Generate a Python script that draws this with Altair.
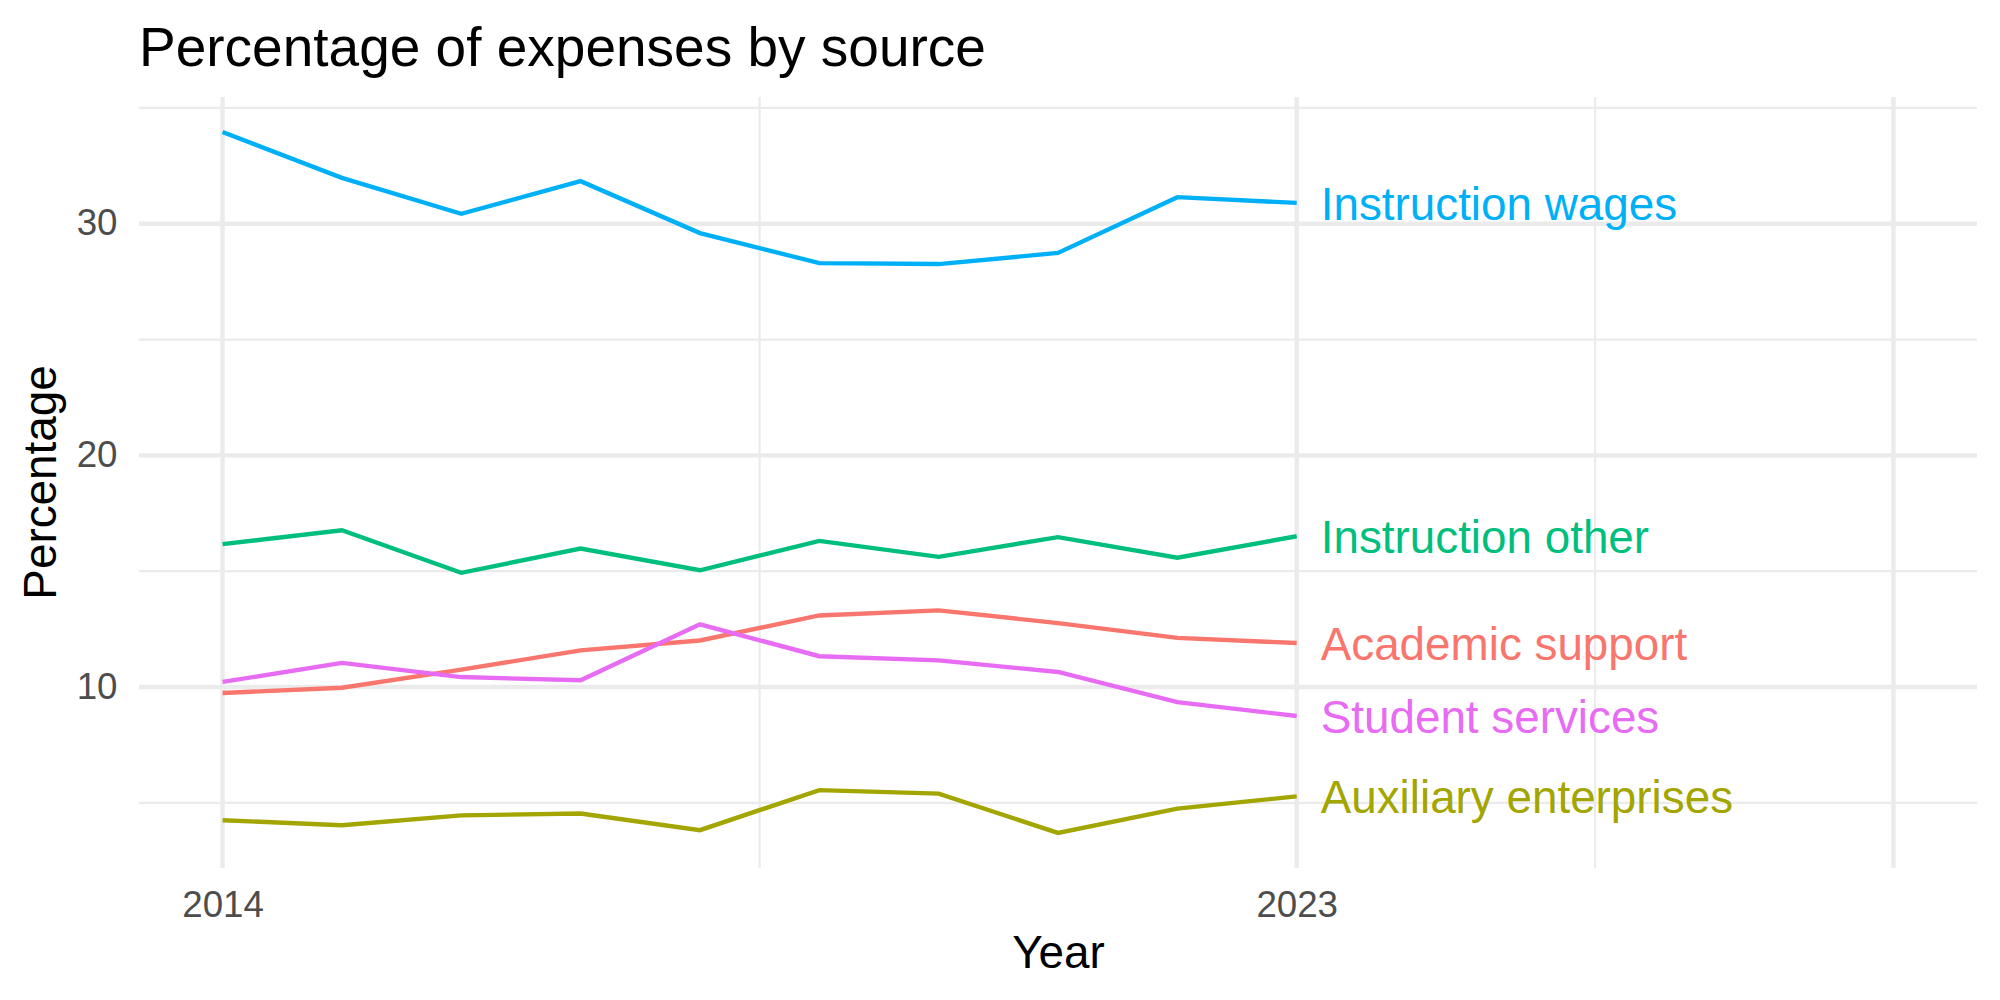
import altair as alt
import pandas as pd

# Share of expenses by source, 2014-2023 (percent)
years = list(range(2014, 2024))
academic_support = [9.74, 9.97, 10.75, 11.58, 12.01, 13.09, 13.31, 12.76, 12.12, 11.90]
auxiliary_enterprises = [4.25, 4.03, 4.46, 4.54, 3.82, 5.55, 5.40, 3.70, 4.75, 5.28]
instruction_other = [16.17, 16.77, 14.93, 15.98, 15.04, 16.31, 15.62, 16.47, 15.58, 16.51]
instruction_wages = [33.96, 31.98, 30.43, 31.84, 29.60, 28.30, 28.26, 28.74, 31.15, 30.90]
student_services = [10.22, 11.04, 10.43, 10.29, 12.71, 11.33, 11.15, 10.65, 9.35, 8.75]

sources = ["Academic support", "Auxiliary enterprises", "Instruction other",
           "Instruction wages", "Student services"]
series = [academic_support, auxiliary_enterprises, instruction_other,
          instruction_wages, student_services]
palette = ["#F8766D", "#A3A500", "#00BF7D", "#00B0F6", "#E76BF3"]

x_breaks = [2014, 2023]
x_major_grid = [2014, 2023, 2028]
x_minor_grid = [2018.5, 2025.5]
y_breaks = [10, 20, 30]
y_minor_grid = [5, 15, 25, 35]

rows = []
for name, vals in zip(sources, series):
    for yr, v in zip(years, vals):
        rows.append({"Year": yr, "Percentage": v, "Source": name})
df = pd.DataFrame(rows)
last = df[df["Year"] == years[-1]]

# ggplot-like 5% expansion of the continuous scales
x_lo, x_hi = 2014, 2028
x_pad = 0.05 * (x_hi - x_lo)
y_lo, y_hi = df["Percentage"].min(), df["Percentage"].max()
y_pad = 0.05 * (y_hi - y_lo)

FONT = "Liberation Sans"
GRID = "#EBEBEB"

x_axis = alt.Axis(values=x_breaks, format="d", grid=False, domain=False, ticks=False,
                  tickSize=0, labelPadding=19, labelFontSize=36.7, labelColor="#4D4D4D",
                  labelFont=FONT, title="Year", titleFontSize=45.8, titleFont=FONT,
                  titleFontWeight="normal", titleColor="black",
                  titleBaseline="alphabetic", titleY=99, titleX=919, titleAnchor="middle")
y_axis = alt.Axis(values=y_breaks, grid=False, domain=False, ticks=False, tickSize=0,
                  labelPadding=22, labelFontSize=36.7, labelColor="#4D4D4D",
                  labelFont=FONT, title="Percentage", titleFontSize=45.8, titleFont=FONT,
                  titleFontWeight="normal", titleColor="black", titleAngle=-90,
                  titleBaseline="alphabetic", titleAlign="center",
                  titleX=-84, titleY=385, titleAnchor="middle")

x_scale = alt.Scale(domain=[x_lo - x_pad, x_hi + x_pad], nice=False, zero=False)
y_scale = alt.Scale(domain=[y_lo - y_pad, y_hi + y_pad], nice=False, zero=False)

def xe(field="Year"):
    return alt.X(f"{field}:Q", scale=x_scale, axis=x_axis)

def ye(field="Percentage"):
    return alt.Y(f"{field}:Q", scale=y_scale, axis=y_axis)

y_minor = alt.Chart(pd.DataFrame({"Percentage": y_minor_grid})).mark_rule(
    color=GRID, strokeWidth=2.2).encode(y=ye())
y_major = alt.Chart(pd.DataFrame({"Percentage": y_breaks})).mark_rule(
    color=GRID, strokeWidth=4.4).encode(y=ye())
x_minor = alt.Chart(pd.DataFrame({"Year": x_minor_grid})).mark_rule(
    color=GRID, strokeWidth=2.2).encode(x=xe())
x_major = alt.Chart(pd.DataFrame({"Year": x_major_grid})).mark_rule(
    color=GRID, strokeWidth=4.4).encode(x=xe())

color = alt.Color("Source:N", scale=alt.Scale(domain=sources, range=palette), legend=None)

lines = alt.Chart(df).mark_line(strokeWidth=4.4).encode(
    x=xe(), y=ye(), color=color, detail="Source:N")

labels = alt.Chart(last).mark_text(
    align="left", baseline="middle", dx=24, dy=3, fontSize=45.8, font=FONT
).encode(x=xe(), y=ye(), text="Source:N", color=color)

chart = alt.layer(y_minor, y_major, x_minor, x_major, lines, labels).properties(
    width=1838,
    height=771,
    background="white",
    title=alt.TitleParams("Percentage of expenses by source", anchor="start",
                          frame="group", fontSize=55, font=FONT, fontWeight="normal",
                          color="black", baseline="alphabetic", offset=33, dy=59),
    autosize=alt.AutoSizeParams(type="none"),
    padding={"left": 139, "top": 97, "right": 23, "bottom": 132},
).configure_view(strokeWidth=0, stroke="transparent")

chart.save("out.html", embed_options={"renderer": "svg", "actions": False})
